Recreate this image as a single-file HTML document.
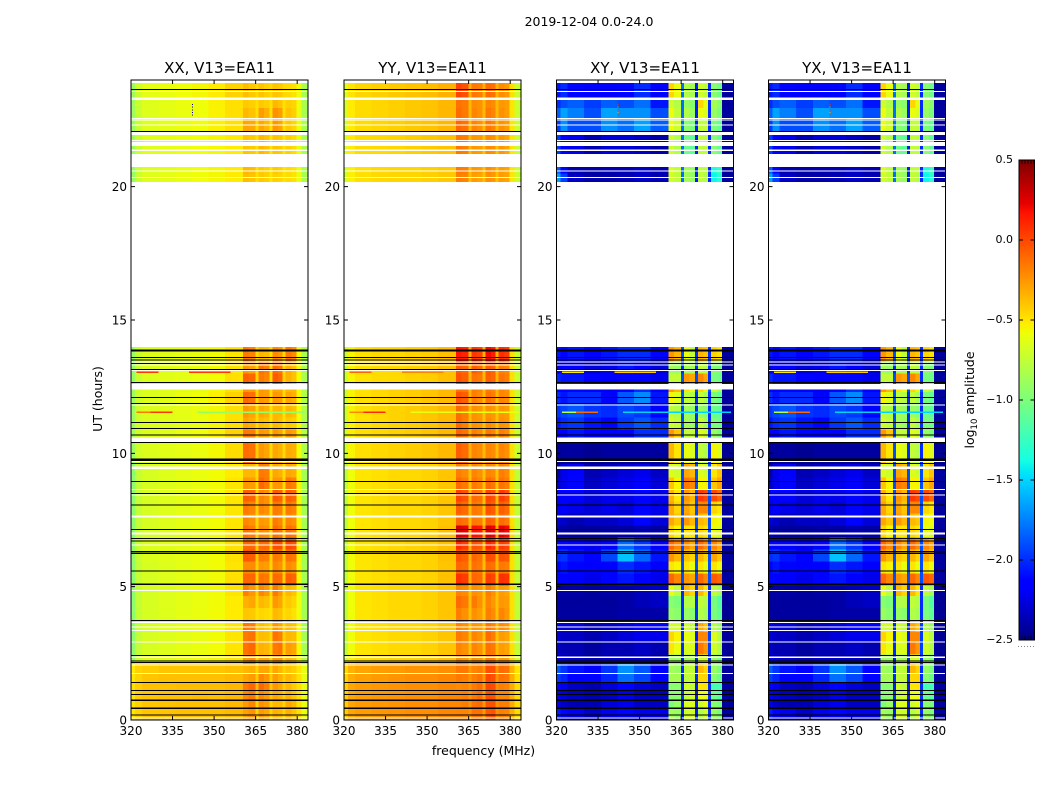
<!DOCTYPE html>
<html lang="en">
<head>
<meta charset="utf-8">
<title>2019-12-04 dynamic spectra</title>
<style>
html,body{margin:0;padding:0;background:#fff;width:1050px;height:800px;overflow:hidden}
svg{display:block}
text{font-family:"DejaVu Sans","Liberation Sans",sans-serif;fill:#000}
</style>
</head>
<body>
<svg id="chart" xmlns="http://www.w3.org/2000/svg" width="1050" height="800" viewBox="0 0 1050 800">
<text x="589" y="26" font-size="12.5" text-anchor="middle">2019-12-04 0.0-24.0</text>
<text x="483.5" y="755" font-size="12.5" text-anchor="middle">frequency (MHz)</text>
<text transform="translate(102,399) rotate(-90)" font-size="12.5" text-anchor="middle">UT (hours)</text>
<text transform="translate(974,400) rotate(-90)" font-size="12.5" text-anchor="middle">log<tspan font-size="8.5" dy="3">10</tspan><tspan dy="-3"> amplitude</tspan></text>
<g id="panels"></g>
<g id="colorbar"></g>
</svg>
<script>
// Frequency bin edges (MHz) and UT row edges (hours)
const freqEdges = [320,321.5,324,330,336,342,348,354,360.5,362.5,365,366,368,370,371,373,374.7,375.8,378,379.7,381.5,383.9];
const hourEdges = [0,.45,.75,1.12,1.43,1.75,2.1,2.45,2.9,3.3,3.7,4.2,4.65,5.05,5.5,5.95,6.4,6.85,7.3,7.75,8.2,8.65,9.1,9.6,10.4,10.9,11.35,11.85,12.3,12.6,13,13.45,13.98,20.18,20.5,20.82,21.23,21.93,22.08,22.57,22.95,23.32,23.88];
const xTicks = [320,335,350,365,380];
const yTicks = [0,5,10,15,20];
const cbarTicks = [-2.5,-2,-1.5,-1,-.5,0,.5];
const cbarLabels = ["\u22122.5","\u22122.0","\u22121.5","\u22121.0","\u22120.5","0.0","0.5"];
const panelTitles = ["XX, V13=EA11","YY, V13=EA11","XY, V13=EA11","YX, V13=EA11"];

// log10 amplitude per UT row (bottom to top), per frequency bin
const xxAmp = [
[-.5,-.44,-.4,-.39,-.38,-.38,-.38,-.36,-.28,-.24,-.44,-.26,-.3,-.44,-.33,-.35,-.44,-.33,-.4,-.48,-.6],
[-.5,-.44,-.4,-.39,-.38,-.38,-.38,-.36,-.26,-.2,-.44,-.23,-.27,-.44,-.35,-.35,-.44,-.3,-.35,-.48,-.6],
[-.5,-.42,-.4,-.38,-.38,-.37,-.38,-.35,-.2,-.15,-.4,-.2,-.25,-.4,-.3,-.33,-.42,-.33,-.4,-.48,-.6],
[-.48,-.42,-.38,-.38,-.37,-.37,-.37,-.35,-.15,-.1,-.36,-.1,-.17,-.4,-.25,-.3,-.42,-.35,-.42,-.48,-.6],
[-.5,-.44,-.4,-.38,-.38,-.38,-.38,-.36,-.3,-.27,-.42,-.2,-.25,-.42,-.27,-.33,-.42,-.35,-.4,-.48,-.62],
[-.52,-.44,-.42,-.4,-.4,-.4,-.4,-.38,-.35,-.33,-.44,-.3,-.3,-.44,-.3,-.35,-.44,-.4,-.42,-.5,-.62],
[-.92,-.72,-.64,-.62,-.6,-.58,-.56,-.5,-.25,-.23,-.46,-.3,-.3,-.46,-.25,-.25,-.46,-.35,-.4,-.56,-.82],
[-.94,-.74,-.67,-.64,-.62,-.6,-.57,-.5,-.13,-.1,-.4,-.33,-.35,-.44,-.15,-.13,-.42,-.27,-.3,-.56,-.85],
[-.94,-.74,-.67,-.64,-.62,-.6,-.57,-.5,-.15,-.13,-.42,-.37,-.38,-.46,-.13,-.17,-.44,-.35,-.37,-.56,-.85],
[-.94,-.74,-.67,-.64,-.62,-.6,-.57,-.5,-.15,-.17,-.42,-.37,-.41,-.46,-.25,-.3,-.46,-.37,-.4,-.57,-.85],
[-.94,-.74,-.67,-.64,-.62,-.6,-.57,-.52,-.4,-.41,-.48,-.45,-.47,-.49,-.35,-.38,-.48,-.45,-.49,-.59,-.85],
[-.94,-.74,-.67,-.64,-.62,-.6,-.57,-.52,-.33,-.3,-.46,-.35,-.38,-.48,-.25,-.3,-.46,-.41,-.45,-.59,-.85],
[-.94,-.74,-.67,-.64,-.62,-.6,-.57,-.5,-.17,-.25,-.44,-.2,-.25,-.46,-.15,-.25,-.46,-.35,-.4,-.57,-.85],
[-.94,-.74,-.67,-.64,-.62,-.6,-.57,-.48,-.09,-.09,-.42,-.13,-.15,-.44,-.1,-.11,-.42,-.07,-.09,-.56,-.85],
[-.94,-.74,-.67,-.64,-.62,-.6,-.57,-.5,-.21,-.21,-.42,-.25,-.27,-.44,-.2,-.23,-.44,-.21,-.25,-.56,-.85],
[-.92,-.72,-.65,-.63,-.62,-.6,-.57,-.48,-.05,-.07,-.4,-.15,-.17,-.44,-.15,-.17,-.42,-.13,-.15,-.55,-.84],
[-.92,-.72,-.65,-.63,-.62,-.6,-.57,-.48,-.1,-.1,-.4,-.11,-.11,-.4,-.01,-.01,-.4,0,-.03,-.55,-.84],
[-.94,-.74,-.67,-.64,-.62,-.6,-.57,-.5,-.13,-.17,-.42,-.21,-.23,-.44,-.11,-.15,-.42,-.13,-.17,-.56,-.85],
[-.94,-.74,-.67,-.64,-.62,-.6,-.57,-.5,-.19,-.23,-.44,-.25,-.27,-.46,-.15,-.2,-.44,-.19,-.23,-.56,-.85],
[-.94,-.74,-.67,-.64,-.62,-.6,-.57,-.5,-.15,-.19,-.42,-.2,-.23,-.46,-.15,-.17,-.44,-.15,-.19,-.56,-.85],
[-.94,-.74,-.67,-.64,-.62,-.6,-.57,-.5,-.07,-.08,-.42,-.19,-.23,-.44,-.05,-.08,-.42,-.07,-.1,-.56,-.85],
[-.94,-.74,-.67,-.64,-.62,-.6,-.57,-.5,-.25,-.27,-.44,-.1,-.15,-.46,-.25,-.25,-.46,-.15,-.19,-.56,-.85],
[-.94,-.74,-.67,-.64,-.62,-.6,-.57,-.52,-.35,-.35,-.46,-.15,-.17,-.48,-.3,-.33,-.46,-.3,-.33,-.57,-.85],
[-.88,-.7,-.65,-.63,-.62,-.6,-.56,-.47,-.11,-.13,-.42,-.25,-.29,-.46,-.3,-.33,-.46,-.31,-.33,-.57,-.82],
[-.86,-.7,-.65,-.63,-.6,-.58,-.54,-.44,-.15,-.17,-.42,-.25,-.27,-.46,-.25,-.29,-.46,-.25,-.29,-.55,-.8],
[-.88,-.7,-.65,-.63,-.62,-.6,-.56,-.48,-.29,-.33,-.46,-.35,-.38,-.48,-.35,-.38,-.48,-.41,-.43,-.57,-.82],
[-.88,-.7,-.65,-.63,-.62,-.6,-.56,-.48,-.25,-.29,-.46,-.3,-.33,-.48,-.35,-.35,-.48,-.35,-.39,-.57,-.82],
[-.88,-.7,-.65,-.63,-.6,-.58,-.54,-.44,-.1,-.13,-.44,-.25,-.27,-.46,-.25,-.27,-.46,-.29,-.33,-.57,-.82],
[-.88,-.7,-.65,-.63,-.62,-.6,-.56,-.48,-.25,-.27,-.46,-.25,-.27,-.46,-.3,-.3,-.46,-.35,-.35,-.57,-.82],
[-.9,-.72,-.65,-.63,-.62,-.6,-.57,-.48,-.07,-.1,-.44,-.15,-.19,-.46,-.05,-.09,-.44,-.33,-.39,-.57,-.84],
[-.9,-.72,-.65,-.63,-.62,-.6,-.57,-.5,-.25,-.29,-.46,-.13,-.17,-.46,-.11,-.15,-.46,-.33,-.39,-.57,-.84],
[-.9,-.72,-.65,-.63,-.62,-.6,-.57,-.5,-.15,-.19,-.46,-.35,-.37,-.48,-.21,-.25,-.46,-.15,-.21,-.57,-.84],
null,
[-.9,-.72,-.64,-.62,-.6,-.58,-.56,-.52,-.37,-.39,-.48,-.41,-.43,-.5,-.43,-.45,-.5,-.47,-.49,-.6,-.84],
[-.9,-.72,-.64,-.62,-.6,-.58,-.56,-.52,-.35,-.37,-.48,-.41,-.43,-.5,-.41,-.43,-.5,-.47,-.49,-.6,-.84],
[-.9,-.72,-.64,-.62,-.6,-.58,-.56,-.52,-.39,-.41,-.48,-.43,-.45,-.5,-.43,-.45,-.5,-.47,-.49,-.6,-.84],
[-.88,-.72,-.64,-.62,-.6,-.58,-.56,-.52,-.39,-.41,-.48,-.35,-.39,-.5,-.39,-.41,-.5,-.43,-.47,-.6,-.84],
[-.88,-.72,-.64,-.62,-.6,-.58,-.56,-.52,-.39,-.41,-.48,-.39,-.41,-.5,-.39,-.41,-.5,-.43,-.47,-.6,-.84],
[-.88,-.72,-.64,-.62,-.6,-.58,-.54,-.48,-.29,-.31,-.46,-.3,-.35,-.48,-.25,-.29,-.48,-.41,-.45,-.6,-.84],
[-.88,-.72,-.64,-.62,-.6,-.58,-.54,-.48,-.35,-.39,-.48,-.27,-.33,-.48,-.23,-.27,-.48,-.39,-.43,-.6,-.84],
[-.88,-.72,-.64,-.62,-.6,-.58,-.54,-.48,-.41,-.43,-.48,-.41,-.43,-.48,-.35,-.39,-.48,-.43,-.45,-.58,-.84],
[-.88,-.7,-.62,-.6,-.58,-.56,-.52,-.44,-.37,-.41,-.46,-.39,-.43,-.46,-.39,-.41,-.46,-.47,-.49,-.58,-.84]
];
const yyAmp = [
[-.42,-.3,-.27,-.25,-.24,-.22,-.22,-.2,-.19,-.19,-.24,-.13,-.13,-.26,-.05,-.03,-.22,-.17,-.19,-.32,-.47],
[-.42,-.3,-.27,-.25,-.24,-.22,-.22,-.2,-.19,-.17,-.24,-.13,-.11,-.26,-.03,-.03,-.22,-.17,-.17,-.32,-.47],
[-.42,-.3,-.27,-.25,-.24,-.22,-.22,-.2,-.19,-.17,-.24,-.15,-.11,-.26,-.01,-.03,-.22,-.19,-.19,-.32,-.47],
[-.42,-.3,-.27,-.25,-.24,-.22,-.22,-.2,-.21,-.19,-.24,-.15,-.11,-.26,.01,-.01,-.22,-.17,-.19,-.32,-.47],
[-.44,-.32,-.28,-.26,-.24,-.22,-.22,-.2,-.15,-.17,-.24,-.17,-.13,-.26,0,-.02,-.24,-.13,-.15,-.32,-.48],
[-.46,-.34,-.29,-.27,-.26,-.24,-.24,-.22,-.15,-.15,-.26,-.19,-.17,-.26,-.02,-.03,-.24,-.11,-.13,-.34,-.5],
[-.72,-.54,-.48,-.46,-.44,-.44,-.42,-.38,-.21,-.25,-.38,-.23,-.25,-.38,-.15,-.17,-.36,-.25,-.27,-.46,-.7],
[-.78,-.58,-.5,-.48,-.46,-.46,-.44,-.4,-.19,-.23,-.38,-.19,-.23,-.38,-.13,-.15,-.36,-.27,-.29,-.48,-.75],
[-.78,-.58,-.5,-.48,-.46,-.46,-.44,-.4,-.15,-.19,-.38,-.19,-.23,-.38,-.11,-.17,-.38,-.27,-.29,-.48,-.75],
[-.78,-.58,-.5,-.48,-.46,-.46,-.44,-.4,-.19,-.23,-.4,-.25,-.27,-.4,-.15,-.19,-.38,-.21,-.25,-.48,-.75],
[-.78,-.58,-.5,-.48,-.46,-.46,-.44,-.4,-.17,-.23,-.38,-.23,-.27,-.4,-.17,-.21,-.38,-.19,-.25,-.48,-.75],
[-.78,-.58,-.5,-.48,-.46,-.46,-.44,-.4,-.11,-.15,-.38,-.15,-.23,-.38,-.19,-.25,-.38,-.25,-.27,-.48,-.75],
[-.78,-.58,-.5,-.48,-.46,-.46,-.44,-.4,-.19,-.21,-.38,-.23,-.25,-.38,-.17,-.23,-.38,-.27,-.29,-.48,-.75],
[-.78,-.58,-.5,-.48,-.46,-.46,-.44,-.38,.08,.04,-.34,-.09,-.11,-.36,.04,.01,-.34,.08,.06,-.48,-.75],
[-.78,-.58,-.5,-.48,-.46,-.46,-.44,-.4,-.09,-.11,-.36,-.13,-.15,-.38,-.11,-.13,-.36,-.15,-.17,-.48,-.75],
[-.76,-.57,-.5,-.48,-.46,-.46,-.44,-.38,-.03,-.07,-.34,-.09,-.13,-.36,-.01,-.03,-.34,-.03,-.05,-.48,-.75],
[-.76,-.57,-.5,-.48,-.46,-.44,-.42,-.38,.1,.04,-.34,-.03,-.05,-.34,.12,.06,-.34,.04,.01,-.48,-.75],
[-.78,-.58,-.5,-.48,-.46,-.46,-.44,-.38,.28,.24,-.32,.18,.16,-.3,.26,.22,-.3,.24,.2,-.46,-.75],
[-.78,-.58,-.5,-.48,-.46,-.46,-.44,-.4,-.1,-.13,-.36,-.15,-.17,-.38,-.07,-.1,-.36,-.11,-.15,-.48,-.75],
[-.78,-.58,-.5,-.48,-.46,-.46,-.44,-.4,-.07,-.11,-.36,-.15,-.17,-.38,-.03,-.07,-.36,-.07,-.11,-.48,-.75],
[-.78,-.58,-.5,-.48,-.46,-.46,-.44,-.4,.02,-.03,-.36,-.11,-.13,-.38,.01,-.03,-.36,.04,-.02,-.48,-.75],
[-.78,-.58,-.5,-.48,-.46,-.46,-.44,-.4,-.11,-.15,-.38,-.15,-.19,-.38,-.11,-.15,-.38,-.13,-.17,-.48,-.75],
[-.78,-.58,-.5,-.48,-.46,-.46,-.44,-.4,-.17,-.21,-.38,-.19,-.23,-.38,-.19,-.21,-.38,-.17,-.21,-.48,-.75],
[-.72,-.55,-.48,-.46,-.44,-.42,-.4,-.36,-.07,-.11,-.34,-.19,-.21,-.36,-.19,-.21,-.36,-.19,-.23,-.48,-.72],
[-.7,-.53,-.48,-.46,-.44,-.42,-.4,-.36,-.1,-.13,-.34,-.17,-.21,-.36,-.15,-.19,-.36,-.17,-.21,-.48,-.72],
[-.72,-.55,-.49,-.46,-.44,-.42,-.4,-.36,-.11,-.17,-.36,-.23,-.25,-.38,-.21,-.25,-.38,-.23,-.25,-.48,-.72],
[-.72,-.55,-.49,-.46,-.44,-.42,-.4,-.36,-.11,-.15,-.36,-.23,-.25,-.38,-.23,-.25,-.38,-.25,-.27,-.48,-.72],
[-.72,-.55,-.48,-.46,-.44,-.42,-.4,-.36,-.03,-.07,-.34,-.17,-.21,-.36,-.13,-.17,-.36,-.19,-.21,-.48,-.72],
[-.72,-.55,-.49,-.46,-.44,-.42,-.4,-.36,-.13,-.15,-.36,-.17,-.19,-.36,-.15,-.19,-.36,-.19,-.23,-.48,-.72],
[-.74,-.55,-.49,-.47,-.46,-.44,-.42,-.38,-.03,-.07,-.36,-.13,-.15,-.36,-.07,-.09,-.34,-.13,-.17,-.48,-.72],
[-.74,-.55,-.49,-.47,-.46,-.44,-.42,-.38,-.07,-.09,-.36,-.07,-.11,-.36,-.07,-.09,-.36,-.17,-.19,-.48,-.72],
[-.74,-.55,-.49,-.47,-.46,-.44,-.42,-.38,.16,.12,-.34,.06,.02,-.34,.2,.14,-.34,.08,.04,-.48,-.72],
null,
[-.7,-.54,-.48,-.46,-.45,-.45,-.43,-.41,-.17,-.19,-.38,-.27,-.29,-.38,-.23,-.25,-.38,-.27,-.29,-.5,-.72],
[-.7,-.54,-.48,-.46,-.45,-.45,-.43,-.41,-.15,-.17,-.38,-.25,-.27,-.38,-.21,-.25,-.38,-.27,-.29,-.5,-.72],
[-.7,-.54,-.48,-.46,-.45,-.45,-.43,-.41,-.17,-.19,-.38,-.27,-.29,-.38,-.23,-.25,-.38,-.27,-.29,-.5,-.72],
[-.68,-.52,-.47,-.46,-.45,-.43,-.41,-.39,-.15,-.17,-.36,-.25,-.27,-.38,-.21,-.23,-.38,-.25,-.29,-.5,-.72],
[-.68,-.52,-.47,-.46,-.45,-.43,-.41,-.39,-.13,-.15,-.36,-.23,-.25,-.38,-.17,-.21,-.38,-.25,-.27,-.5,-.72],
[-.68,-.52,-.47,-.45,-.43,-.41,-.39,-.35,-.1,-.13,-.36,-.19,-.23,-.36,-.15,-.19,-.36,-.23,-.27,-.5,-.72],
[-.68,-.52,-.47,-.45,-.43,-.41,-.39,-.35,-.11,-.15,-.36,-.19,-.23,-.36,-.15,-.19,-.36,-.23,-.27,-.5,-.72],
[-.68,-.52,-.47,-.45,-.43,-.41,-.39,-.35,-.13,-.15,-.36,-.21,-.23,-.36,-.19,-.21,-.36,-.25,-.27,-.5,-.72],
[-.66,-.5,-.45,-.43,-.41,-.39,-.37,-.33,.02,-.02,-.34,-.15,-.17,-.34,-.11,-.13,-.34,-.21,-.25,-.48,-.72]
];
const xyAmp = [
[-2.05,-2.12,-2.22,-2.32,-2.22,-2.12,-2.22,-2.22,-.85,-.9,-2.05,-.7,-.7,-2.05,-.8,-.7,-2,-.9,-1,-2.42,-2.42],
[-2.22,-2.32,-2.37,-2.37,-2.27,-2.22,-2.32,-2.32,-1,-.9,-2.05,-.65,-.65,-2.05,-.7,-.6,-2,-.95,-1,-2.42,-2.42],
[-2.22,-2.27,-2.32,-2.37,-2.32,-2.22,-2.32,-2.32,-.95,-.95,-2,-.75,-.7,-2.05,-.6,-.6,-2,-1.05,-1.15,-2.4,-2.42],
[-2.17,-2.22,-2.32,-2.37,-2.27,-2.12,-2.27,-2.32,-.95,-.95,-2.05,-.7,-.75,-2.05,-.5,-.5,-2,-1.2,-1.2,-2.4,-2.42],
[-1.95,-2.02,-2.12,-2.12,-2.02,-1.8,-1.92,-2.12,-.85,-.85,-2,-.75,-.75,-2,-.45,-.45,-2,-.95,-1.05,-2.42,-2.42],
[-1.85,-1.97,-2.07,-2.12,-1.97,-1.7,-1.87,-2.12,-.85,-.9,-2,-.75,-.75,-2,-.35,-.45,-2,-.9,-1,-2.42,-2.42],
[-2.22,-2.27,-2.32,-2.37,-2.32,-2.32,-2.32,-2.37,-.9,-.9,-2.05,-.85,-.85,-2,-.7,-.7,-2,-.9,-1,-2.42,-2.45],
[-2.32,-2.37,-2.37,-2.42,-2.37,-2.37,-2.32,-2.37,-.5,-.6,-2,-.65,-.65,-2.05,-.15,-.25,-1.95,-.7,-.8,-2.42,-2.45],
[-2.27,-2.32,-2.32,-2.37,-2.32,-2.27,-2.22,-2.22,-.45,-.55,-2,-.6,-.65,-2.05,-.2,-.2,-1.95,-.65,-.8,-2.42,-2.45],
[-2.22,-2.27,-2.27,-2.37,-2.32,-2.27,-2.17,-2.17,-.7,-.7,-2,-.7,-.75,-2,-.3,-.4,-1.95,-.8,-.9,-2.42,-2.45],
[-2.42,-2.42,-2.42,-2.42,-2.42,-2.4,-2.4,-2.4,-.9,-.95,-2,-.9,-.95,-2,-.8,-.85,-2,-1,-1.1,-2.45,-2.45],
[-2.42,-2.42,-2.42,-2.42,-2.42,-2.4,-2.35,-2.32,-.95,-1,-2,-.8,-.8,-2,-.75,-.8,-2,-1,-1.15,-2.45,-2.45],
[-2.4,-2.4,-2.4,-2.42,-2.4,-2.4,-2.35,-2.32,-.6,-.75,-2,-.35,-.45,-2,-.35,-.5,-2,-.75,-.85,-2.45,-2.45],
[-2.12,-2.12,-2.17,-2.22,-2.12,-2.07,-2.17,-2.22,-.1,-.2,-1.9,-.25,-.3,-1.9,-.1,-.2,-1.9,-.05,-.1,-2.42,-2.42],
[-2.12,-2.07,-2.12,-2.17,-2.12,-2,-2.07,-2.17,-.5,-.55,-1.9,-.5,-.6,-1.9,-.5,-.6,-1.9,-.5,-.6,-2.42,-2.42],
[-2,-1.97,-2.07,-2.12,-1.92,-1.55,-1.82,-2.07,-.25,-.35,-1.9,-.4,-.45,-1.9,-.35,-.45,-1.9,-.3,-.4,-2.42,-2.42],
[-2.12,-2.12,-2.17,-2.22,-2.12,-1.82,-1.97,-2.17,-.1,-.2,-1.9,-.2,-.3,-1.9,-.1,-.2,-1.9,-.2,-.3,-2.42,-2.42],
[-2.37,-2.4,-2.42,-2.42,-2.4,-2.4,-2.37,-2.4,-.45,-.55,-1.9,-.5,-.5,-1.9,-.45,-.5,-1.9,-.6,-.65,-2.42,-2.42],
[-2.27,-2.32,-2.37,-2.32,-2.32,-2.27,-2.12,-2.27,-.3,-.4,-1.9,-.25,-.35,-1.9,-.35,-.4,-1.9,-.55,-.6,-2.42,-2.42],
[-2.22,-2.17,-2.22,-2.27,-2.22,-2.27,-2.12,-2.22,-.3,-.45,-1.9,-.3,-.4,-1.9,-.2,-.2,-1.9,-.45,-.5,-2.42,-2.42],
[-2.17,-2.17,-2.17,-2.27,-2.22,-2.22,-2.12,-2.22,-.35,-.5,-1.9,-.25,-.35,-1.9,.05,0,-1.9,0,-.1,-2.42,-2.42],
[-2.32,-2.22,-2.12,-2.32,-2.27,-2.22,-2.17,-2.27,-.4,-.55,-1.9,-.15,-.2,-1.9,-.55,-.55,-1.9,-.4,-.3,-2.42,-2.42],
[-2.4,-2.22,-2.17,-2.37,-2.32,-2.27,-2.22,-2.32,-.65,-.7,-1.9,-.3,-.35,-1.9,-.65,-.7,-1.9,-.5,-.4,-2.42,-2.42],
[-2.45,-2.42,-2.42,-2.45,-2.42,-2.42,-2.42,-2.42,-.35,-.5,-1.9,-.6,-.65,-2,-.75,-.8,-2,-.55,-.65,-2.45,-2.45],
[-2.17,-2.17,-2.07,-2.12,-2.17,-2.12,-2,-2,-.25,-.4,-1.9,-.75,-.75,-2,-.65,-.7,-2,-.9,-1,-2.42,-2.42],
[-2.07,-2,-1.97,-2.07,-2.12,-1.97,-1.87,-2,-.7,-.75,-1.9,-.85,-.9,-2,-.75,-.85,-2,-1,-1.05,-2.42,-2.42],
[-1.97,-1.92,-1.87,-1.97,-2,-1.92,-1.97,-2.12,-.75,-.8,-1.9,-.85,-.9,-2,-.9,-.95,-2,-1.05,-1.1,-2.42,-2.42],
[-2,-2.07,-2,-2,-2.12,-1.87,-1.72,-2.07,-.55,-.65,-1.9,-.75,-.8,-2,-.75,-.85,-2,-1,-1.1,-2.42,-2.42],
[-2.12,-2.17,-2.12,-2.17,-2.22,-2.12,-2,-2.17,-.25,-.35,-1.9,-.5,-.6,-1.9,-.45,-.55,-1.9,-.7,-.85,-2.42,-2.42],
[-2,-2.07,-2.07,-2.12,-2.17,-2.12,-2.12,-2.22,-.75,-.75,-1.9,-.25,-.3,-1.9,-.2,-.3,-2,-1,-1.05,-2.42,-2.42],
[-2.22,-2.17,-2.17,-2.27,-2.22,-2.07,-2.17,-2.27,-.85,-.9,-2,-.85,-.85,-2,-.75,-.8,-2,-.95,-1,-2.42,-2.42],
[-2.07,-2.12,-2.07,-2.12,-2.07,-2,-2,-2.12,-.25,-.35,-1.9,-.6,-.75,-2,-.35,-.4,-2,-.45,-.5,-2.42,-2.42],
null,
[-1.65,-1.95,-2.32,-2.4,-2.4,-2.37,-2.32,-2.37,-.7,-.75,-1.8,-.85,-.9,-2.05,-.75,-.8,-2,-1.4,-1.3,-2.42,-2.42],
[-1.85,-2.12,-2.37,-2.4,-2.37,-2.37,-2.32,-2.37,-.65,-.75,-1.8,-.85,-.9,-2.05,-.75,-.75,-2,-1.35,-1.25,-2.42,-2.42],
[-1.9,-2.17,-2.37,-2.37,-2.37,-2.37,-2.37,-2.37,-.65,-.75,-1.8,-.85,-.95,-2.05,-.75,-.75,-2,-1.2,-1.25,-2.42,-2.42],
[-1.95,-2.17,-2.22,-2.37,-2.27,-2.27,-2.32,-2.4,-.7,-.8,-1.8,-1.05,-1.1,-2.05,-.75,-.75,-2,-.95,-1.1,-2.42,-2.42],
[-1.9,-2.12,-2.27,-2.32,-2.32,-2.32,-2.32,-2.37,-.7,-.8,-1.8,-.9,-.95,-2.05,-.8,-.8,-2,-1,-1.1,-2.42,-2.42],
[-1.95,-1.7,-1.9,-1.9,-1.7,-1.8,-1.65,-1.85,-.6,-.7,-1.8,-.95,-1,-2.05,-.75,-.75,-2,-1,-1.1,-2.42,-2.42],
[-1.85,-1.65,-1.75,-1.9,-1.65,-1.7,-1.7,-1.9,-.6,-.75,-1.8,-.8,-.9,-2.05,-.6,-.65,-2,-.9,-1,-2.42,-2.42],
[-2,-1.9,-1.85,-1.95,-1.85,-1.9,-1.8,-2.07,-.7,-.8,-1.8,-.9,-.95,-2.05,-.45,-.6,-2,-.85,-.95,-2.42,-2.42],
[-2.07,-2,-2.12,-2.17,-2.17,-2.12,-2,-2.17,-.45,-.6,-1.8,-.8,-.85,-2.05,-.7,-.75,-2,-.95,-1.05,-2.42,-2.42]
];
const yxAmp = xyAmp;

// Flagged (no data, drawn white) UT ranges in hours: starts and ends
const blankStart = [.06,1.73,2.05,2.32,2.9,3.33,3.46,3.64,4.84,6.55,6.95,7.6,8.41,8.63,9.42,9.68,10.42,11.8,12.4,13.08,13.3,13.4,20.32,20.56,20.73,21.34,21.52,21.72,21.93,22.3,22.49,22.53,23.25,23.55,23.88];
const blankEnd   = [.1,1.77,2.09,2.38,2.94,3.37,3.5,3.68,4.88,6.59,7.03,7.66,8.45,8.67,9.5,9.72,10.6,11.84,12.6,13.12,13.34,13.45,20.36,20.6,21.23,21.4,21.67,21.75,22.08,22.34,22.52,22.57,23.34,23.59,24];
// Flagged (zero amplitude, drawn black) UT samples in hours
const zeroHours = [.18,.44,.74,.96,1.1,1.41,2.15,2.22,2.42,3.73,5.09,5.58,6.24,6.31,6.72,6.8,7.15,8.06,8.5,8.95,9.62,9.74,9.78,10.41,10.68,10.93,11.16,11.87,12.1,12.65,13.15,13.37,13.5,13.6,13.84,13.88,22.07,23.65];
const zeroSpan = 0.04;

// Narrow-band RFI streaks: UT hour, start/end frequency, amplitude per polarisation
const rfiHour  = [13.03,13.03,11.53,11.53,11.53];
const rfiStart = [322,341,322,327,344];
const rfiEnd   = [330,356,327,335,383];
const rfiXX    = [.05,.05,-.15,.05,-.9];
const rfiYY    = [-.1,-.2,-.2,.1,-.6];
const rfiXY    = [-.5,-.4,-.8,-.1,-1.5];

// Isolated bad samples
const spikeFreq = [342,342,342,342,342];
const spikeHour = [22.7,22.8,22.9,23,23.1];
const spikeXX   = [-2.5,-2.5,-2.5,-2.5,-2.5];
const spikeXY   = [.1,-.3,.1,-.3,.1];

const panelData = [xxAmp,yyAmp,xyAmp,yxAmp];
const panelRfi = [rfiXX,rfiYY,rfiXY,rfiXY];
const panelSpikes = [spikeXX,null,spikeXY,spikeXY];
const panelLeft = [131,344,556.5,768.5];
const panelWidth = 177, plotTop = 80, plotBottom = 720;
const vMin = -2.5, vMax = .5;
const SVGNS = "http://www.w3.org/2000/svg";

function interp(t,xs,ys){
  for(let i=1;i<xs.length;i++){ if(t<=xs[i]) return ys[i-1]+(ys[i]-ys[i-1])*(t-xs[i-1])/(xs[i]-xs[i-1]); }
  return ys[ys.length-1];
}
function jet(v){
  const t=Math.max(0,Math.min(1,(v-vMin)/(vMax-vMin)));
  const r=interp(t,[0,.35,.66,.89,1],[0,0,1,1,.5]);
  const g=interp(t,[0,.125,.375,.64,.91,1],[0,0,1,1,0,0]);
  const b=interp(t,[0,.11,.34,.65,1],[.5,1,1,0,0]);
  return "rgb("+Math.round(r*255)+","+Math.round(g*255)+","+Math.round(b*255)+")";
}
const xScale=(f,left)=>left+(f-320)*panelWidth/63.9;
const yScale=h=>plotBottom-h*(plotBottom-plotTop)/24;
function mk(tag,attrs,parent){
  const el=document.createElementNS(SVGNS,tag);
  for(const k in attrs) el.setAttribute(k,attrs[k]);
  parent.appendChild(el);
  return el;
}

const panelsRoot=document.getElementById("panels");
panelData.forEach((matrix,p)=>{
  const left=panelLeft[p];
  const g=mk("g",{},panelsRoot);
  
  
  const cells=mk("g",{"shape-rendering":"crispEdges"},g);
  
  
  matrix.forEach((row,r)=>{
    if(!row) return;
    row.forEach((v,c)=>{
      const x0=xScale(freqEdges[c],left), x1=xScale(freqEdges[c+1],left);
      const y0=yScale(hourEdges[r+1]), y1=yScale(hourEdges[r]);
      const cell=mk("rect",{x:x0,y:y0,width:x1-x0,height:y1-y0,fill:jet(v)},cells);
      
      
    });
  });
  rfiHour.forEach((h,i)=>{
    const x0=xScale(rfiStart[i],left), x1=xScale(rfiEnd[i],left);
    const streak=mk("rect",{x:x0,y:yScale(h+.03),width:x1-x0,height:1.4,fill:jet(panelRfi[p][i])},cells);
    
    
  });
  if(panelSpikes[p]){
    spikeHour.forEach((h,i)=>{
      const spike=mk("rect",{x:xScale(spikeFreq[i],left),y:yScale(h),width:1,height:1,fill:jet(panelSpikes[p][i])},cells);
      
      
    });
  }
  blankStart.forEach((h,i)=>{
    const band=mk("rect",{x:left,y:yScale(blankEnd[i]),width:panelWidth,height:yScale(h)-yScale(blankEnd[i]),fill:"#fff"},cells);
    
    
  });
  zeroHours.forEach(h=>{
    const line=mk("rect",{x:left,y:yScale(h+zeroSpan/2),width:panelWidth,height:Math.max(1,zeroSpan*640/24),fill:"#000"},cells);
    
    
  });
  // ticks and tick labels
  xTicks.forEach(t=>{
    const x=xScale(t,left);
    const tb=mk("path",{d:`M${x} ${plotBottom}v-4M${x} ${plotTop}v4`,stroke:"#000","stroke-width":1,fill:"none"},g);
    
    
    const lab=mk("text",{x:x,y:plotBottom+15,"font-size":12,"text-anchor":"middle"},g);
    
    
    lab.textContent=t;
  });
  yTicks.forEach(t=>{
    const y=yScale(t);
    const tb=mk("path",{d:`M${left} ${y}h4M${left+panelWidth} ${y}h-4`,stroke:"#000","stroke-width":1,fill:"none"},g);
    
    
    const lab=mk("text",{x:left-4,y:y+4.5,"font-size":12,"text-anchor":"end"},g);
    
    
    lab.textContent=t;
  });
  const frame=mk("rect",{x:left,y:plotTop,width:panelWidth,height:plotBottom-plotTop,fill:"none",stroke:"#000","stroke-width":1},g);
  
  
  const title=mk("text",{x:left+panelWidth/2,y:plotTop-7,"font-size":15,"text-anchor":"middle"},g);
  
  
  title.textContent=panelTitles[p];
});

// Colorbar
const cb=document.getElementById("colorbar");
const cbLeft=1019, cbRight=1034.5, cbTop=160, cbBottom=640;
const cbY=v=>cbBottom-(v-vMin)*(cbBottom-cbTop)/(vMax-vMin);
const cbSteps=240;
const cbCells=mk("g",{"shape-rendering":"crispEdges"},cb);


for(let i=0;i<cbSteps;i++){
  const v0=vMin+(vMax-vMin)*i/cbSteps, v1=vMin+(vMax-vMin)*(i+1)/cbSteps;
  const seg=mk("rect",{x:cbLeft,y:cbY(v1),width:cbRight-cbLeft,height:cbY(v0)-cbY(v1)+.5,fill:jet((v0+v1)/2)},cbCells);
  
  
}
cbarTicks.forEach((t,i)=>{
  const y=cbY(t);
  const tb=mk("path",{d:`M${cbLeft} ${y}h4M${cbRight} ${y}h-4`,stroke:"#000","stroke-width":1,fill:"none"},cb);
  
  
  const lab=mk("text",{x:1013,y:y+3,"font-size":11,"text-anchor":"end"},cb);
  
  
  lab.textContent=cbarLabels[i];
});
let minorPath="";
for(let x=cbLeft+3;x<cbRight;x+=3){ minorPath+=`M${x} ${cbTop}v4M${x} ${cbBottom}v-4`; }
const minor=mk("path",{d:minorPath,stroke:"#000","stroke-width":.8,fill:"none"},cb);


for(let x=1018;x<1035;x+=3){
  const dot=mk("rect",{x:x,y:646,width:1,height:1,fill:"#888"},cb);
  
  
}
const cbFrame=mk("rect",{x:cbLeft,y:cbTop,width:cbRight-cbLeft,height:cbBottom-cbTop,fill:"none",stroke:"#000","stroke-width":1},cb);


</script>
</body>
</html>
